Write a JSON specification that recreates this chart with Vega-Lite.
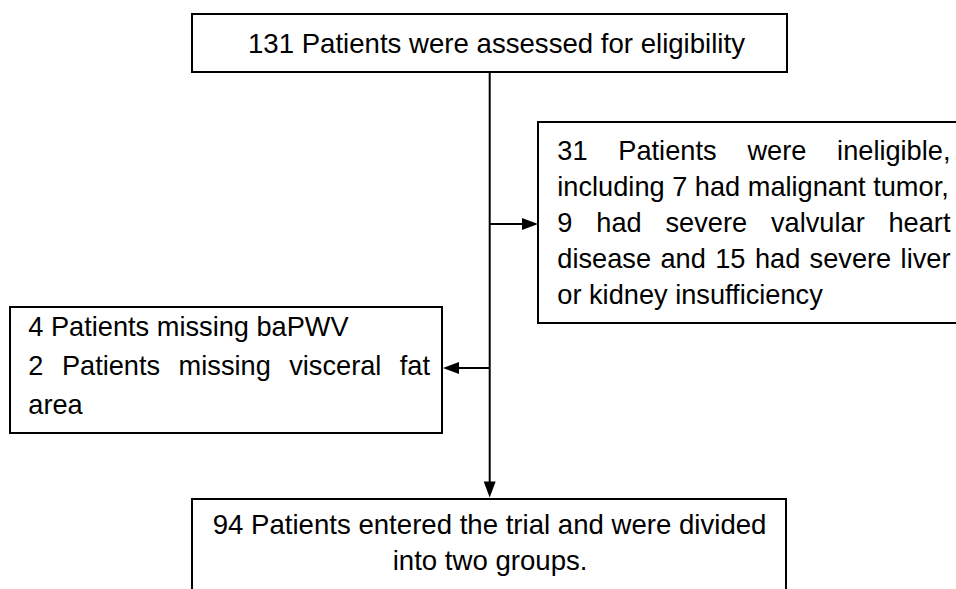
{
  "$schema": "https://vega.github.io/schema/vega-lite/v6.json",
  "width": 956,
  "height": 589,
  "padding": 0,
  "autosize": {"type": "none"},
  "background": "white",
  "config": {"view": {"stroke": null}},
  "datasets": {
    "boxes": [
      {"box": "assessed", "x1": 192, "x2": 787, "y1": 14, "y2": 72},
      {"box": "ineligible", "x1": 538, "x2": 960, "y1": 122, "y2": 323},
      {"box": "missing", "x1": 10, "x2": 442, "y1": 307, "y2": 433},
      {"box": "entered", "x1": 192, "x2": 786, "y1": 499, "y2": 600}
    ],
    "links": [
      {"x1": 489.7, "x2": 489.7, "y1": 72, "y2": 490},
      {"x1": 489.7, "x2": 530, "y1": 224, "y2": 224},
      {"x1": 451, "x2": 489.7, "y1": 368, "y2": 368}
    ],
    "arrows": [
      {"dir": "down", "x": 489.7, "y": 489.5},
      {"dir": "right", "x": 530, "y": 224},
      {"dir": "left", "x": 451, "y": 368}
    ],
    "labels": [
      {"box": "outer", "x": 248, "y": 52.5, "t": "131 Patients were assessed for eligibility"},
      {"box": "side", "x": 557.3, "y": 160, "t": "31"},
      {"box": "side", "x": 618.3, "y": 160, "t": "Patients"},
      {"box": "side", "x": 747.4, "y": 160, "t": "were"},
      {"box": "side", "x": 837.1, "y": 160, "t": "ineligible,"},
      {"box": "side", "x": 557.3, "y": 196, "t": "including 7 had malignant tumor,"},
      {"box": "side", "x": 557.3, "y": 232, "t": "9"},
      {"box": "side", "x": 596.3, "y": 232, "t": "had"},
      {"box": "side", "x": 665.5, "y": 232, "t": "severe"},
      {"box": "side", "x": 771.0, "y": 232, "t": "valvular"},
      {"box": "side", "x": 888.5, "y": 232, "t": "heart"},
      {"box": "side", "x": 557.3, "y": 268, "t": "disease"},
      {"box": "side", "x": 660.4, "y": 268, "t": "and"},
      {"box": "side", "x": 715.2, "y": 268, "t": "15"},
      {"box": "side", "x": 754.9, "y": 268, "t": "had"},
      {"box": "side", "x": 809.6, "y": 268, "t": "severe"},
      {"box": "side", "x": 900.6, "y": 268, "t": "liver"},
      {"box": "side", "x": 557.3, "y": 304, "t": "or kidney insufficiency"},
      {"box": "side", "x": 28.3, "y": 336, "t": "4 Patients missing baPWV"},
      {"box": "side", "x": 28.3, "y": 375, "t": "2"},
      {"box": "side", "x": 61.9, "y": 375, "t": "Patients"},
      {"box": "side", "x": 178.6, "y": 375, "t": "missing"},
      {"box": "side", "x": 289.2, "y": 375, "t": "visceral"},
      {"box": "side", "x": 399.8, "y": 375, "t": "fat"},
      {"box": "side", "x": 28.3, "y": 414, "t": "area"},
      {"box": "outer", "x": 212.7, "y": 534, "t": "94 Patients entered the trial and were divided"},
      {"box": "outer", "x": 392.7, "y": 569.5, "t": "into two groups."}
    ]
  },
  "layer": [
    {
      "data": {"name": "boxes"},
      "mark": {"type": "rect", "fill": "white", "stroke": "black", "strokeWidth": 2, "clip": true},
      "encoding": {
        "x": {"field": "x1", "type": "quantitative", "axis": null, "scale": {"domain": [0, 956], "nice": false, "zero": false}},
        "x2": {"field": "x2"},
        "y": {"field": "y1", "type": "quantitative", "axis": null, "scale": {"domain": [0, 589], "nice": false, "zero": false, "reverse": true}},
        "y2": {"field": "y2"}
      }
    },
    {
      "data": {"name": "links"},
      "mark": {"type": "rule", "stroke": "black", "strokeWidth": 2},
      "encoding": {
        "x": {"field": "x1", "type": "quantitative"},
        "x2": {"field": "x2"},
        "y": {"field": "y1", "type": "quantitative"},
        "y2": {"field": "y2"}
      }
    },
    {
      "data": {"name": "arrows"},
      "mark": {"type": "point", "filled": true, "fill": "black", "opacity": 1, "size": 256, "strokeWidth": 0},
      "encoding": {
        "x": {"field": "x", "type": "quantitative"},
        "y": {"field": "y", "type": "quantitative"},
        "shape": {
          "field": "dir",
          "type": "nominal",
          "legend": null,
          "scale": {
            "domain": ["right", "left", "down"],
            "range": ["M-1,-0.75L1,0L-1,0.75Z", "M1,-0.75L-1,0L1,0.75Z", "M-0.75,-1L0,1L0.75,-1Z"]
          }
        }
      }
    },
    {
      "data": {"name": "labels"},
      "transform": [{"filter": "datum.box === 'outer'"}],
      "mark": {"type": "text", "align": "left", "baseline": "alphabetic", "font": "Liberation Sans", "fontSize": 27.6, "fill": "black"},
      "encoding": {
        "x": {"field": "x", "type": "quantitative"},
        "y": {"field": "y", "type": "quantitative"},
        "text": {"field": "t", "type": "nominal"}
      }
    },
    {
      "data": {"name": "labels"},
      "transform": [{"filter": "datum.box === 'side'"}],
      "mark": {"type": "text", "align": "left", "baseline": "alphabetic", "font": "Liberation Sans", "fontSize": 27.2, "fill": "black"},
      "encoding": {
        "x": {"field": "x", "type": "quantitative"},
        "y": {"field": "y", "type": "quantitative"},
        "text": {"field": "t", "type": "nominal"}
      }
    }
  ]
}
